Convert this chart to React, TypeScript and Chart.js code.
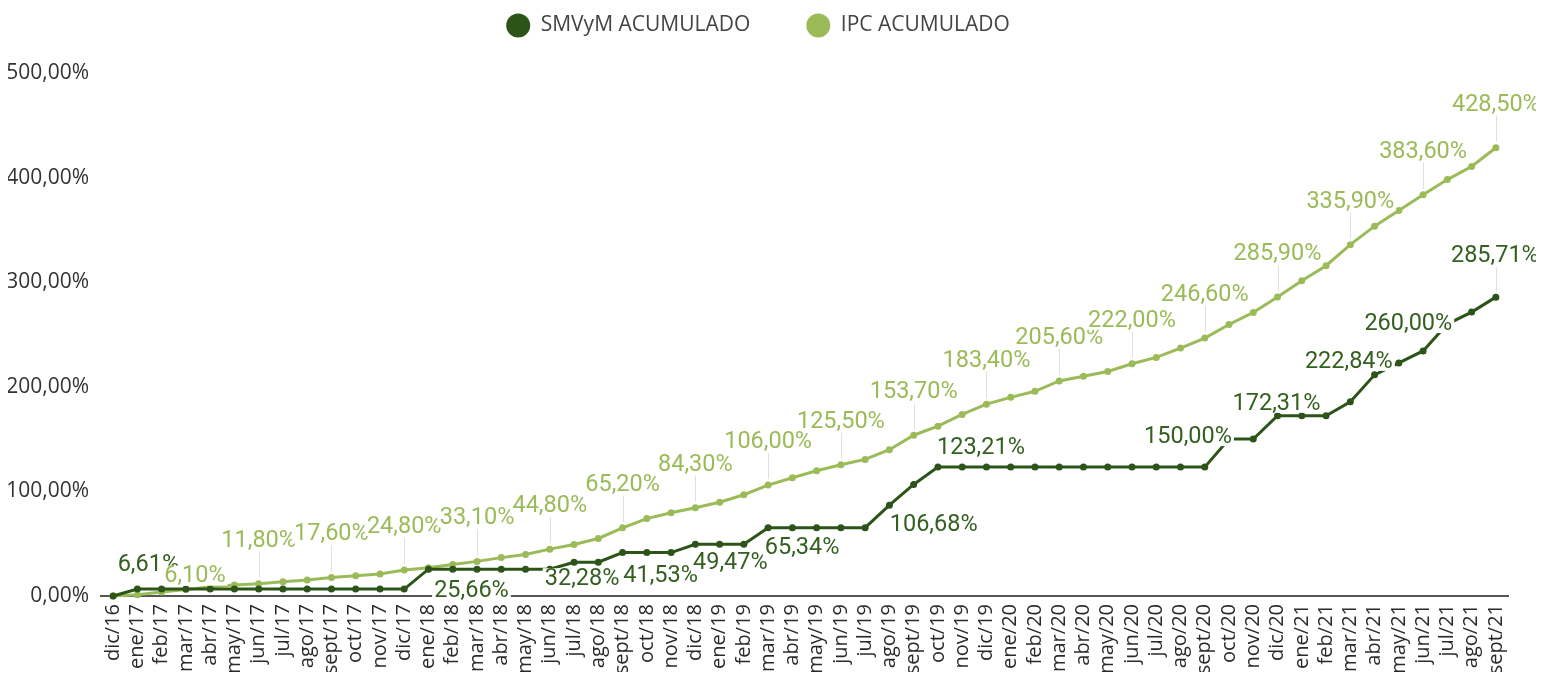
import React, { useEffect, useRef } from "react";
import { Chart, registerables } from "chart.js";

Chart.register(...registerables);

// ---------- data ----------
const categories = [
  "dic/16",
  "ene/17", "feb/17", "mar/17", "abr/17", "may/17", "jun/17", "jul/17", "ago/17", "sept/17", "oct/17", "nov/17", "dic/17",
  "ene/18", "feb/18", "mar/18", "abr/18", "may/18", "jun/18", "jul/18", "ago/18", "sept/18", "oct/18", "nov/18", "dic/18",
  "ene/19", "feb/19", "mar/19", "abr/19", "may/19", "jun/19", "jul/19", "ago/19", "sept/19", "oct/19", "nov/19", "dic/19",
  "ene/20", "feb/20", "mar/20", "abr/20", "may/20", "jun/20", "jul/20", "ago/20", "sept/20", "oct/20", "nov/20", "dic/20",
  "ene/21", "feb/21", "mar/21", "abr/21", "may/21", "jun/21", "jul/21", "ago/21", "sept/21",
];

const smvymAcumulado = [
  0,
  6.61, 6.61, 6.61, 6.61, 6.61, 6.61, 6.61, 6.61, 6.61, 6.61, 6.61, 6.61,
  25.66, 25.66, 25.66, 25.66, 25.66, 25.66, 32.28, 32.28, 41.53, 41.53, 41.53, 49.47,
  49.47, 49.47, 65.34, 65.34, 65.34, 65.34, 65.34, 86.84, 106.68, 123.21, 123.21, 123.21,
  123.21, 123.21, 123.21, 123.21, 123.21, 123.21, 123.21, 123.21, 123.21, 150.0, 150.0, 172.31,
  172.31, 172.31, 185.71, 211.43, 222.84, 234.29, 260.0, 271.43, 285.71,
];

const ipcAcumulado = [
  0,
  1.3, 3.8, 6.1, 8.9, 10.4, 11.8, 13.7, 15.3, 17.6, 19.4, 21.1, 24.8,
  27.0, 30.1, 33.1, 36.7, 39.6, 44.8, 49.2, 55.0, 65.2, 74.0, 79.6, 84.3,
  89.6, 96.8, 106.0, 113.1, 119.7, 125.5, 130.6, 139.8, 153.7, 162.4, 173.6, 183.4,
  189.9, 195.7, 205.6, 210.1, 214.7, 222.0, 228.1, 237.0, 246.6, 259.6, 271.1, 285.9,
  301.3, 315.8, 335.9, 353.6, 368.6, 383.6, 398.1, 410.6, 428.5,
];

const yTicks = [0, 100, 200, 300, 400, 500];

// indices of the points that carry a value label
const smvLabelIndices = [1, 13, 19, 21, 24, 27, 33, 34, 46, 48, 53, 55, 57];
const ipcLabelIndices = [3, 6, 9, 12, 15, 18, 21, 24, 27, 30, 33, 36, 39, 42, 45, 48, 51, 54, 57];

// ---------- style / label placement ----------
const SMV_COLOR = "#2C5418";
const SMV_LABEL_COLOR = "#335F1F";
const IPC_COLOR = "#9BBB59";

const smvLabelPlacement: Record<number, { dx: number; dy: number; leader?: boolean }> = {
  1: { dx: 11, dy: -25 },
  13: { dx: 43, dy: 21 },
  19: { dx: 8, dy: 16 },
  21: { dx: 38, dy: 23 },
  24: { dx: 35, dy: 18 },
  27: { dx: 34, dy: 19 },
  33: { dx: 20, dy: 40 },
  34: { dx: 43, dy: -20 },
  46: { dx: -41, dy: -3 },
  48: { dx: -1, dy: -13 },
  53: { dx: -50, dy: -2 },
  55: { dx: -39, dy: -1 },
  57: { dx: -1, dy: -42, leader: true },
};
const ipcDefaultPlacement = { dx: 0, dy: -44, leader: true };
const ipcLabelPlacement: Record<number, { dx: number; dy: number; leader?: boolean }> = {
  3: { dx: 9, dy: -14, leader: false },
};

const LABEL_FONT = "23.5px Roboto";
const TICK_FONT_FAMILY = "'Open Sans', 'Noto Sans', sans-serif";
const TEXT_SIZE = 21;
const X_TEXT_SIZE = 20;

const fmtPct = (v: number) => v.toFixed(2).replace(".", ",") + "%";

const valueLabels = {
  id: "valueLabels",
  afterDatasetsDraw(chart: any) {
    const ctx: CanvasRenderingContext2D = chart.ctx;
    ctx.save();
    ctx.font = LABEL_FONT;
    ctx.textAlign = "center";
    ctx.textBaseline = "middle";
    const sets = [
      { ds: 0, indices: smvLabelIndices, color: SMV_LABEL_COLOR, place: (i: number) => smvLabelPlacement[i] || { dx: 0, dy: -30 } },
      { ds: 1, indices: ipcLabelIndices, color: IPC_COLOR, place: (i: number) => ({ ...ipcDefaultPlacement, ...(ipcLabelPlacement[i] || {}) }) },
    ];
    sets.forEach((set) => {
      const meta = chart.getDatasetMeta(set.ds);
      const data = chart.data.datasets[set.ds].data as number[];
      set.indices.forEach((idx) => {
        const pt = meta.data[idx];
        if (!pt) return;
        const p: any = set.place(idx);
        const text = fmtPct(data[idx]);
        const cx = pt.x + p.dx;
        const cy = pt.y + p.dy;
        const w = ctx.measureText(text).width;
        if (p.leader) {
          ctx.strokeStyle = "#E0E0E0";
          ctx.lineWidth = 1;
          ctx.beginPath();
          ctx.moveTo(Math.round(pt.x) + 0.5, cy + 12);
          ctx.lineTo(Math.round(pt.x) + 0.5, pt.y - 6);
          ctx.stroke();
        }
        ctx.fillStyle = "#FFFFFF";
        ctx.fillRect(cx - w / 2 - 2, cy - 10, w + 4, 20);
        ctx.fillStyle = set.color;
        ctx.fillText(text, cx, cy + 1);
      });
    });
    ctx.restore();
  },
};

const LEGEND_HEIGHT = 114;
const legendSizer = {
  id: "legendSizer",
  beforeLayout(chart: any) {
    const lg = chart.legend;
    if (lg && !lg.__patched) {
      const orig = lg.fit.bind(lg);
      lg.fit = function () {
        orig();
        this.height = LEGEND_HEIGHT;
      };
      lg.__patched = true;
    }
  },
};

export default function App() {
  const ref = useRef<HTMLCanvasElement | null>(null);

  useEffect(() => {
    if (!ref.current) return;
    const chart = new Chart(ref.current, {
      type: "line",
      data: {
        labels: categories,
        datasets: [
          {
            label: "SMVyM ACUMULADO",
            data: smvymAcumulado,
            borderColor: SMV_COLOR,
            backgroundColor: SMV_COLOR,
            pointBackgroundColor: SMV_COLOR,
            pointBorderColor: SMV_COLOR,
            borderWidth: 3,
            pointRadius: 3.5,
            pointBorderWidth: 0,
            tension: 0,
            clip: false as any,
          },
          {
            label: "IPC ACUMULADO",
            data: ipcAcumulado,
            borderColor: IPC_COLOR,
            backgroundColor: IPC_COLOR,
            pointBackgroundColor: IPC_COLOR,
            pointBorderColor: IPC_COLOR,
            borderWidth: 3,
            pointRadius: 3.5,
            pointBorderWidth: 0,
            tension: 0,
            clip: false as any,
          },
        ],
      },
      options: {
        animation: false,
        responsive: true,
        maintainAspectRatio: false,
        events: [],
        layout: { padding: { top: -49, right: 28, left: 0, bottom: 0 } },
        plugins: {
          tooltip: { enabled: false },
          legend: {
            display: true,
            position: "top",
            align: "center",
            labels: {
              usePointStyle: true,
              pointStyle: "circle",
              boxHeight: 17,
              pointStyleWidth: 24,
              padding: 56,
              color: "#444444",
              font: { family: TICK_FONT_FAMILY, size: TEXT_SIZE },
              generateLabels: (c: any) =>
                (Chart.defaults.plugins.legend.labels.generateLabels as any)(c).map((l: any) => ({ ...l, lineWidth: 0 })),
            },
          },
        },
        scales: {
          x: {
            type: "category",
            offset: true,
            grid: { display: false, drawTicks: false },
            border: { display: true, color: "#555555", width: 2 },
            ticks: {
              autoSkip: false,
              minRotation: 90,
              maxRotation: 90,
              padding: 8,
              color: "#2a2a2a",
              font: { family: TICK_FONT_FAMILY, size: X_TEXT_SIZE },
            },
            afterFit: (s: any) => {
              s.height = 76;
            },
          },
          y: {
            type: "linear",
            min: yTicks[0],
            max: yTicks[yTicks.length - 1],
            grid: { display: false, drawTicks: false },
            border: { display: false },
            afterBuildTicks: (s: any) => {
              s.ticks = yTicks.map((v) => ({ value: v }));
            },
            ticks: {
              padding: 12,
              color: "#333333",
              font: { family: TICK_FONT_FAMILY, size: TEXT_SIZE },
              callback: (v: any) => fmtPct(Number(v)),
            },
            afterFit: (s: any) => {
              s.width = 93;
            },
          },
        },
      },
      plugins: [legendSizer, valueLabels],
    });
    return () => chart.destroy();
  }, []);

  return (
    <div style={{ width: 1528, height: 664, position: "relative" }}>
      <canvas ref={ref} />
    </div>
  );
}
